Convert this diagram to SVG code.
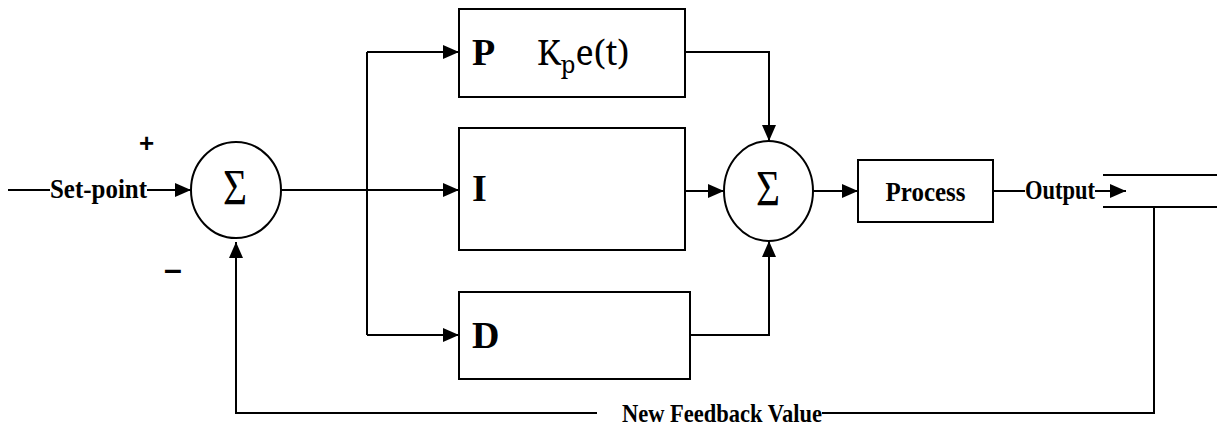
<svg xmlns="http://www.w3.org/2000/svg" width="1217" height="429" viewBox="0 0 1217 429">
<defs>
<marker id="ah" markerWidth="16" markerHeight="14" refX="16" refY="7" orient="auto" markerUnits="userSpaceOnUse">
<path d="M0,0 L16,7 L0,14 Z" fill="#000"/>
</marker>
</defs>
<g id="connectors" fill="none" stroke="#000" stroke-width="2">
<line x1="8" y1="190" x2="50" y2="190"/>
<line x1="147" y1="190" x2="191" y2="190" marker-end="url(#ah)"/>
<line x1="281" y1="190" x2="459" y2="190" marker-end="url(#ah)"/>
<polyline points="367,52 367,335"/>
<line x1="367" y1="52" x2="459" y2="52" marker-end="url(#ah)"/>
<line x1="367" y1="335" x2="459" y2="335" marker-end="url(#ah)"/>
<polyline points="685,52 769,52 769,141" marker-end="url(#ah)"/>
<line x1="685" y1="191" x2="724" y2="191" marker-end="url(#ah)"/>
<polyline points="690,335 769,335 769,241" marker-end="url(#ah)"/>
<line x1="813" y1="191" x2="858" y2="191" marker-end="url(#ah)"/>
<line x1="993" y1="191" x2="1025" y2="191"/>
<line x1="1095" y1="191" x2="1126" y2="191" marker-end="url(#ah)"/>
<line x1="1103" y1="175" x2="1217" y2="175"/>
<line x1="1103" y1="207" x2="1217" y2="207"/>
<polyline points="1154,207 1154,413 822,413"/>
<polyline points="597,413 236,413 236,242" marker-end="url(#ah)"/>
</g>
<g id="labels" fill="#000" stroke="none">
<text x="50" y="198" font-family="Liberation Serif" font-weight="bold" font-size="27" textLength="97" lengthAdjust="spacingAndGlyphs">Set-point</text>
<text x="1025" y="199" font-family="Liberation Serif" font-weight="bold" font-size="27" textLength="70" lengthAdjust="spacingAndGlyphs">Output</text>
<text x="622" y="422" font-family="Liberation Serif" font-weight="bold" font-size="26" textLength="200" lengthAdjust="spacingAndGlyphs">New Feedback Value</text>
<text x="139" y="152" font-family="Liberation Sans" font-weight="bold" font-size="26">+</text>
<text x="164" y="280" font-family="Liberation Sans" font-weight="bold" font-size="32">–</text>
</g>
<g id="sum1">
<ellipse cx="236" cy="190" rx="45" ry="48" fill="#fff" stroke="#000" stroke-width="2"/>
<text x="223" y="204" font-family="Liberation Serif" font-size="50" textLength="24" lengthAdjust="spacingAndGlyphs">Σ</text>
</g>
<g id="P">
<rect x="459" y="9" width="226" height="88" fill="#fff" stroke="#000" stroke-width="2"/>
<text x="472" y="65" font-family="Liberation Serif" font-weight="bold" font-size="38">P</text>
<text x="537" y="65" font-family="Noto Serif" font-size="34">K<tspan font-size="24" dy="8">p</tspan><tspan dy="-8">e(t)</tspan></text>
</g>
<g id="I">
<rect x="459" y="128" width="226" height="122" fill="#fff" stroke="#000" stroke-width="2"/>
<text x="472" y="201" font-family="Liberation Serif" font-weight="bold" font-size="38">I</text>
</g>
<g id="D">
<rect x="459" y="292" width="231" height="87" fill="#fff" stroke="#000" stroke-width="2"/>
<text x="472" y="348" font-family="Liberation Serif" font-weight="bold" font-size="38">D</text>
</g>
<g id="sum2">
<ellipse cx="768.5" cy="191" rx="44.5" ry="50" fill="#fff" stroke="#000" stroke-width="2"/>
<text x="756" y="205" font-family="Liberation Serif" font-size="50" textLength="24" lengthAdjust="spacingAndGlyphs">Σ</text>
</g>
<g id="process">
<rect x="858" y="160" width="135" height="62" fill="#fff" stroke="#000" stroke-width="2"/>
<text x="925.5" y="201" font-family="Liberation Serif" font-weight="bold" font-size="27" text-anchor="middle" textLength="80" lengthAdjust="spacingAndGlyphs">Process</text>
</g>
</svg>
